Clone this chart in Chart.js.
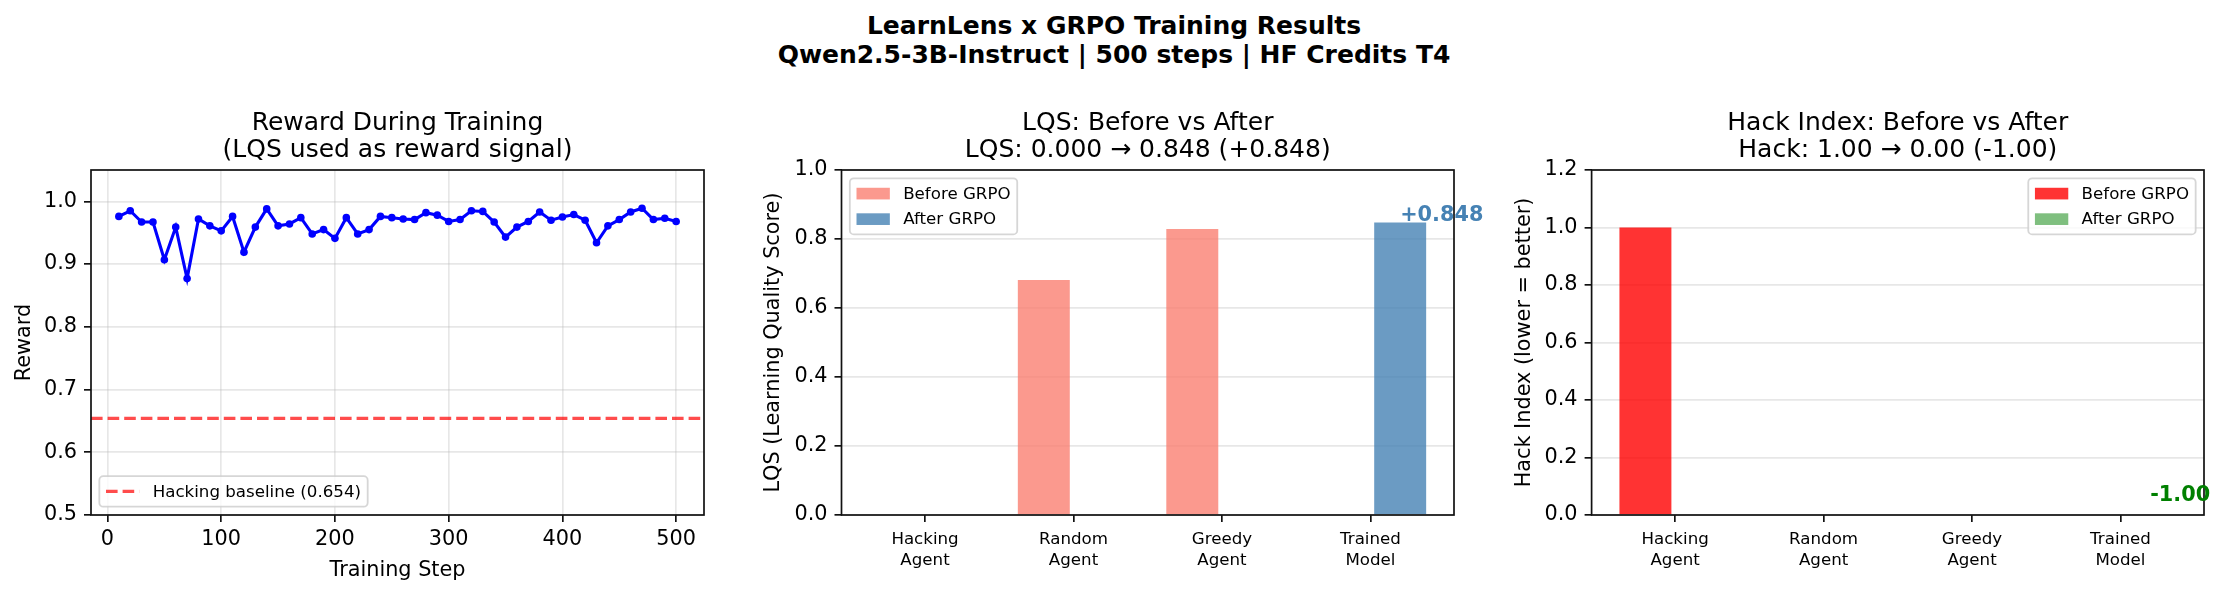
<!DOCTYPE html>
<html><head><meta charset="utf-8">
<script src="https://cdn.jsdelivr.net/npm/chart.js@4.4.1/dist/chart.umd.min.js"></script>
<style>
html,body{margin:0;padding:0;background:#fff;width:2225px;height:593px;overflow:hidden;}
canvas{position:absolute;top:0;}
#sup{position:absolute;left:0;top:11px;width:2228px;text-align:center;font:bold 25px 'DejaVu Sans';line-height:29px;color:#000;white-space:pre;}
</style></head><body>
<div id="sup"></div>
<canvas id="c1" width="740" height="593" style="left:0px"></canvas>
<canvas id="c2" width="760" height="593" style="left:740px"></canvas>
<canvas id="c3" width="745" height="593" style="left:1480px"></canvas>
<script>
// ---------------- data ----------------
const suptitleLines = ['LearnLens x GRPO Training Results', 'Qwen2.5-3B-Instruct | 500 steps | HF Credits T4'];

const trainingSteps = [10,20,30,40,50,60,70,80,90,100,110,120,130,140,150,160,170,180,190,200,
  210,220,230,240,250,260,270,280,290,300,310,320,330,340,350,360,370,380,390,400,
  410,420,430,440,450,460,470,480,490,500];
const rewards = [0.976,0.985,0.967,0.967,0.907,0.959,0.877,0.972,0.961,0.953,
  0.976,0.919,0.959,0.988,0.961,0.964,0.974,0.948,0.955,0.941,
  0.974,0.948,0.955,0.976,0.974,0.972,0.971,0.982,0.978,0.968,
  0.971,0.985,0.984,0.967,0.943,0.959,0.968,0.983,0.970,0.975,
  0.979,0.970,0.934,0.961,0.971,0.983,0.989,0.971,0.973,0.968];
const hackingBaseline = 0.654;
const rewardYTicks = [0.5,0.6,0.7,0.8,0.9,1.0];
const stepTicks = [0,100,200,300,400,500];

const agentLabels = [['Hacking','Agent'],['Random','Agent'],['Greedy','Agent'],['Trained','Model']];
const agentTicks = [0,1,2,3];
const lqsBefore = [0.0, 0.681, 0.829, 0.0];
const lqsAfter  = [0.0, 0.0, 0.0, 0.848];
const hackBefore = [1.0, 0.0, 0.0, 0.0];
const hackAfter  = [0.0, 0.0, 0.0, 0.0];
const lqsTicks = [0.0,0.2,0.4,0.6,0.8,1.0];
const hackTicks = [0.0,0.2,0.4,0.6,0.8,1.0,1.2];
const seriesNames = ['Before GRPO', 'After GRPO'];

// ---------------- styling ----------------
const F = 'DejaVu Sans';
Chart.defaults.font.family = F;
Chart.defaults.color = '#000';
Chart.defaults.animation = false;

const TICK = 20.8, TITLE = 25, LEG = 16.67;
const SPINE = '#111', GRID = 'rgba(176,176,176,0.3)';
const cSalmon = 'rgba(250,128,114,0.8)', cSteel = 'rgba(70,130,180,0.8)';
const cRed = 'rgba(255,0,0,0.8)', cGreen = 'rgba(0,128,0,0.5)';
const cBase = 'rgba(255,0,0,0.7)';
const DASH = [11.6, 5];

document.getElementById('sup').textContent = suptitleLines.join('\n');

const setTicks = arr => (s => { s.ticks = arr.map(v => ({value: v})); });

const framePlugin = {
  id: 'frame',
  afterDatasetsDraw(chart) {
    const {ctx, chartArea: a} = chart;
    ctx.save();
    ctx.strokeStyle = SPINE; ctx.lineWidth = 1.7;
    ctx.strokeRect(a.left, a.top, a.right - a.left, a.bottom - a.top);
    ctx.restore();
  }
};

const baselinePlugin = {
  id: 'baseline',
  beforeDatasetsDraw(chart, args, opts) {
    if (opts.value === undefined) return;
    const {ctx, chartArea: a} = chart;
    const y = chart.scales.y.getPixelForValue(opts.value);
    ctx.save();
    ctx.strokeStyle = opts.color; ctx.lineWidth = 3.1; ctx.setLineDash(DASH);
    ctx.beginPath(); ctx.moveTo(a.left, y); ctx.lineTo(a.right, y); ctx.stroke();
    ctx.restore();
  }
};

const legendPlugin = {
  id: 'mplLegend',
  afterDraw(chart, args, opts) {
    if (!opts.items) return;
    const {ctx, chartArea: a} = chart;
    const fs = LEG, pad = 0.4 * fs, hl = 2 * fs, htp = 0.8 * fs, ls = 0.5 * fs, rowH = 17.2, axpad = 0.5 * fs;
    ctx.save();
    ctx.font = `${fs}px ${F}`;
    let tw = 0;
    opts.items.forEach(it => { tw = Math.max(tw, ctx.measureText(it.label).width); });
    const n = opts.items.length;
    const w = pad + hl + htp + tw + pad;
    const h = pad * 2 + n * rowH + (n - 1) * ls;
    let x0, y0;
    if (opts.corner === 'ul') { x0 = a.left + axpad; y0 = a.top + axpad; }
    else if (opts.corner === 'ur') { x0 = a.right - axpad - w; y0 = a.top + axpad; }
    else { x0 = a.left + axpad; y0 = a.bottom - axpad - h; }
    ctx.fillStyle = 'rgba(255,255,255,0.8)';
    ctx.strokeStyle = 'rgba(204,204,204,0.8)';
    ctx.lineWidth = 1.8;
    ctx.beginPath(); ctx.roundRect(x0, y0, w, h, 4); ctx.fill(); ctx.stroke();
    opts.items.forEach((it, i) => {
      const cy = y0 + pad + i * (rowH + ls) + rowH / 2;
      if (it.dash) {
        ctx.strokeStyle = it.color; ctx.lineWidth = 3.1; ctx.setLineDash(DASH);
        ctx.beginPath(); ctx.moveTo(x0 + pad, cy); ctx.lineTo(x0 + pad + hl, cy); ctx.stroke();
        ctx.setLineDash([]);
      } else {
        ctx.fillStyle = it.color;
        ctx.fillRect(x0 + pad, cy - 0.35 * fs, hl, 0.7 * fs);
      }
      ctx.fillStyle = '#000'; ctx.textAlign = 'left'; ctx.textBaseline = 'middle';
      ctx.fillText(it.label, x0 + pad + hl + htp, cy + 1);
    });
    ctx.restore();
  }
};

const deltaPlugin = {
  id: 'deltaLabel',
  afterDraw(chart, args, opts) {
    if (!opts.text) return;
    const {ctx} = chart;
    const el = chart.getDatasetMeta(opts.datasetIndex).data[opts.index];
    const v = chart.data.datasets[opts.datasetIndex].data[opts.index].y;
    const y = chart.scales.y.getPixelForValue(v + opts.valueOffset);
    ctx.save();
    ctx.font = `bold ${TICK}px ${F}`;
    ctx.fillStyle = opts.color; ctx.textAlign = 'left'; ctx.textBaseline = 'alphabetic';
    ctx.fillText(opts.text, el.x, y);
    ctx.restore();
  }
};

function titleOpts(lines) {
  return {display: true, text: lines, fullSize: false, color: '#000',
    font: {size: TITLE, weight: 'normal', lineHeight: 1.096},
    padding: {top: 109.6, bottom: 5.6}};
}
function gridOpts(onArea) {
  return {display: true, drawOnChartArea: onArea, drawTicks: true, color: GRID, lineWidth: 1.67,
    tickColor: SPINE, tickLength: 7, tickWidth: 1.7, offset: false};
}

// ---------------- Panel 1: reward line ----------------
new Chart(document.getElementById('c1'), {
  type: 'line',
  data: { datasets: [{
    data: trainingSteps.map((s, i) => ({x: s, y: rewards[i]})),
    borderColor: '#0000ff', backgroundColor: '#0000ff', borderWidth: 3.1,
    pointRadius: 3.8, pointBorderWidth: 0, pointBackgroundColor: '#0000ff', tension: 0
  }]},
  options: {
    responsive: false, devicePixelRatio: 1, animation: false,
    layout: {padding: {left: 0, right: 36, top: 0, bottom: 0}},
    plugins: {
      legend: {display: false}, tooltip: {enabled: false},
      title: titleOpts(['Reward During Training', '(LQS used as reward signal)']),
      baseline: {value: hackingBaseline, color: cBase},
      mplLegend: {corner: 'll', items: [{label: `Hacking baseline (${hackingBaseline.toFixed(3)})`, color: cBase, dash: true}]}
    },
    scales: {
      x: {type: 'linear', min: -14.5, max: 524.5, afterBuildTicks: setTicks(stepTicks),
        afterFit: s => { s.height = 78; },
        grid: gridOpts(true), border: {display: false},
        ticks: {font: {size: TICK, lineHeight: 1}, padding: 7, maxRotation: 0, autoSkip: false, callback: v => String(v)},
        title: {display: true, text: 'Training Step', font: {size: TICK}, padding: {top: 0, bottom: 10}}},
      y: {type: 'linear', min: 0.5, max: 1.05, afterBuildTicks: setTicks(rewardYTicks),
        afterFit: s => { s.width = 91; },
        grid: gridOpts(true), border: {display: false},
        ticks: {font: {size: TICK}, padding: 7, autoSkip: false, callback: v => v.toFixed(1)},
        title: {display: true, text: 'Reward', font: {size: TICK}, padding: {top: 12.3, bottom: 0}}}
    }
  },
  plugins: [baselinePlugin, framePlugin, legendPlugin]
});

// ---------------- bar panels ----------------
function barChart(id, before, after, cols, yMax, yTicks, yTitle, titleLines, yWidth, rightPad, yTitlePad, legendCorner, delta) {
  return new Chart(document.getElementById(id), {
    type: 'bar',
    data: { datasets: [
      {label: seriesNames[0], data: before.map((v, i) => ({x: agentTicks[i], y: v})), backgroundColor: cols[0],
        borderWidth: 0, categoryPercentage: 0.8, barPercentage: 0.875},
      {label: seriesNames[1], data: after.map((v, i) => ({x: agentTicks[i], y: v})), backgroundColor: cols[1],
        borderWidth: 0, categoryPercentage: 0.8, barPercentage: 0.875}
    ]},
    options: {
      responsive: false, devicePixelRatio: 1, animation: false,
      layout: {padding: {left: 0, right: rightPad, top: 0, bottom: 0}},
      plugins: {
        legend: {display: false}, tooltip: {enabled: false},
        title: titleOpts(titleLines),
        mplLegend: {corner: legendCorner, items: seriesNames.map((n, i) => ({label: n, color: cols[i]}))},
        deltaLabel: delta
      },
      scales: {
        x: {type: 'linear', min: -0.5625, max: 3.5625, offset: false, afterBuildTicks: setTicks(agentTicks),
          afterFit: s => { s.height = 78; },
          grid: gridOpts(false), border: {display: false},
          ticks: {font: {size: LEG, lineHeight: 21 / LEG}, padding: 7, maxRotation: 0, autoSkip: false,
            callback: v => agentLabels[v]}},
        y: {type: 'linear', min: 0, max: yMax, afterBuildTicks: setTicks(yTicks),
          afterFit: s => { s.width = yWidth; },
          grid: gridOpts(true), border: {display: false},
          ticks: {font: {size: TICK}, padding: 7, autoSkip: false, callback: v => v.toFixed(1)},
          title: {display: true, text: yTitle, font: {size: TICK}, padding: {top: yTitlePad, bottom: 0}}}
      }
    },
    plugins: [framePlugin, legendPlugin, deltaPlugin]
  });
}

const lqsDelta = lqsAfter[3] - lqsBefore[0];
const hackDelta = hackAfter[3] - hackBefore[0];
const sgn = d => (d >= 0 ? '+' : '');

barChart('c2', lqsBefore, lqsAfter, [cSalmon, cSteel], 1.0, lqsTicks, 'LQS (Learning Quality Score)',
  ['LQS: Before vs After', `LQS: ${lqsBefore[0].toFixed(3)} \u2192 ${lqsAfter[3].toFixed(3)} (${sgn(lqsDelta)}${lqsDelta.toFixed(3)})`],
  101.5, 46, 21.5, 'ul',
  {datasetIndex: 1, index: 3, text: `${sgn(lqsDelta)}${lqsDelta.toFixed(3)}`, color: '#4682b4', valueOffset: 0.003});

barChart('c3', hackBefore, hackAfter, [cRed, cGreen], 1.2, hackTicks, 'Hack Index (lower = better)',
  ['Hack Index: Before vs After', `Hack: ${hackBefore[0].toFixed(2)} \u2192 ${hackAfter[3].toFixed(2)} (${sgn(hackDelta)}${hackDelta.toFixed(2)})`],
  111.6, 21, 32.2, 'ur',
  {datasetIndex: 1, index: 3, text: `${sgn(hackDelta)}${hackDelta.toFixed(2)}`, color: '#008000', valueOffset: 0.05});
</script>
</body></html>
